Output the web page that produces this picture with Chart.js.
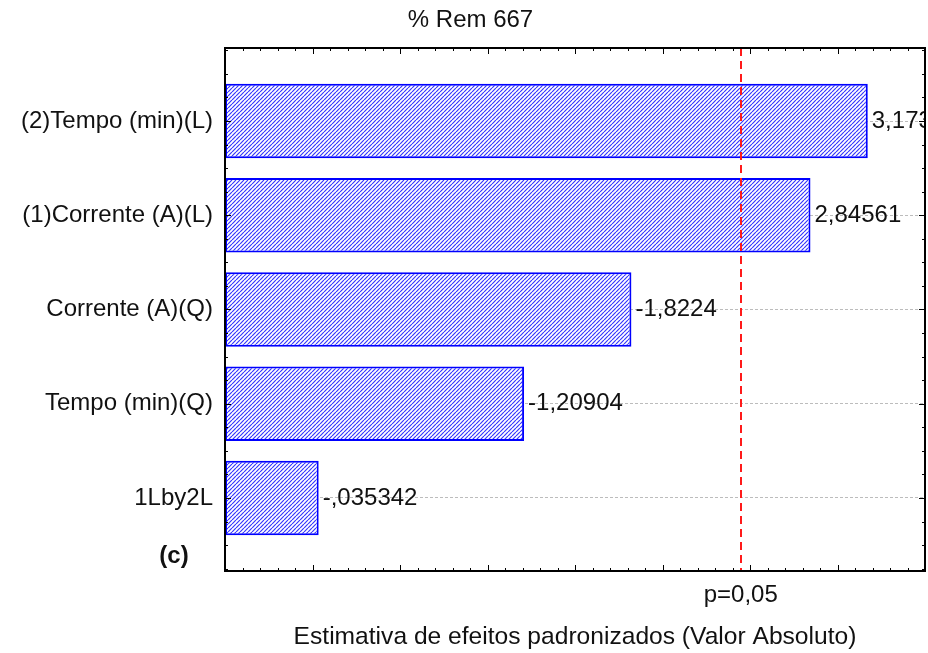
<!DOCTYPE html>
<html>
<head>
<meta charset="utf-8">
<script src="https://cdn.jsdelivr.net/npm/chart.js@4.4.1/dist/chart.umd.min.js"></script>
<style>
  body { margin: 0; background: #fff; }
</style>
</head>
<body>
<canvas id="grafico" width="928" height="653"></canvas>
<script>
// efeitos e estimativas padronizadas (t)
const efeitos = ['(2)Tempo (min)(L)', '(1)Corrente (A)(L)', 'Corrente (A)(Q)', 'Tempo (min)(Q)', '1Lby2L']
const estimativas = [3.173, 2.84561, -1.8224, -1.20904, -0.035342]
const pCritico = 2.4469
const pRotulo = 'p=0,05'
const xMin = -0.5
const xMax = 3.5

Chart.defaults.font.family = "'Liberation Sans', Arial, sans-serif"
Chart.defaults.font.size = 24
Chart.defaults.color = '#111'

// formato do Statistica: virgula decimal e sem zero a esquerda
function formatar(v) {
  return String(v).replace('.', ',').replace(/^(-?)0,/, '$1,')
}

// hachura azul das barras
function hachura() {
  const s = 4
  const c = document.createElement('canvas')
  c.width = s
  c.height = s
  const g = c.getContext('2d')
  g.fillStyle = '#ffffff'
  g.fillRect(0, 0, s, s)
  g.strokeStyle = '#3535ff'
  g.lineWidth = 1.2
  g.beginPath()
  for (let k = -s; k <= s; k += s) {
    g.moveTo(k, s)
    g.lineTo(k + s, 0)
  }
  g.stroke()
  return g.createPattern(c, 'repeat')
}

const moldura = {
  id: 'moldura',
  afterDatasetsDraw(chart) {
    const { ctx, chartArea: a } = chart
    const meta = chart.getDatasetMeta(0)
    ctx.save()
    ctx.beginPath()
    ctx.rect(a.left, a.top, a.width, a.height)
    ctx.clip()
    ctx.fillStyle = '#111'
    ctx.textBaseline = 'middle'
    ctx.textAlign = 'left'
    ctx.font = "24px 'Liberation Sans', Arial, sans-serif"
    meta.data.forEach((bar, i) => {
      ctx.fillText(formatar(estimativas[i]), bar.x + 4, bar.y)
    })
    ctx.restore()
  },
  afterDraw(chart) {
    const { ctx, chartArea: a, scales: { x, y } } = chart
    ctx.save()
    ctx.strokeStyle = '#000'
    ctx.lineWidth = 1
    const linha = (x1, y1, x2, y2) => {
      ctx.beginPath()
      ctx.moveTo(x1, y1)
      ctx.lineTo(x2, y2)
      ctx.stroke()
    }
    // marcas do eixo x: 0,5 maiores e 0,1 menores
    for (let n = 0; n <= Math.round((xMax - xMin) / 0.1); n++) {
      const v = xMin + n * 0.1
      const px = Math.round(x.getPixelForValue(v)) + 0.5
      const len = n % 5 === 0 ? 6 : 3
      linha(px, a.bottom, px, a.bottom - len)
      linha(px, a.top, px, a.top + len)
    }
    // marcas do eixo y: uma por efeito e quartos entre eles
    for (let n = -3; n <= (efeitos.length - 1) * 4 + 3; n++) {
      const py = Math.round(y.getPixelForValue(n / 4)) + 0.5
      const len = n % 4 === 0 ? 6 : 3
      linha(a.left, py, a.left + len, py)
      linha(a.right, py, a.right - len, py)
    }
    ctx.lineWidth = 2
    ctx.strokeRect(a.left, a.top, a.width, a.height)
    ctx.fillStyle = '#111'
    ctx.font = "bold 24px 'Liberation Sans', Arial, sans-serif"
    ctx.textAlign = 'center'
    ctx.textBaseline = 'middle'
    ctx.fillText('(c)', 174, 556)
    ctx.restore()
  }
}

new Chart(document.getElementById('grafico'), {
  type: 'bar',
  data: {
    datasets: [{
      data: estimativas.map((v, i) => ({ x: Math.abs(v), y: i })),
      base: xMin,
      backgroundColor: hachura(),
      borderColor: '#0000ff',
      borderWidth: 2,
      borderSkipped: false,
      categoryPercentage: 1,
      barPercentage: 0.79
    }]
  },
  options: {
    indexAxis: 'y',
    responsive: false,
    animation: false,
    devicePixelRatio: 1,
    layout: { padding: { left: 16, right: 3, top: 0, bottom: 0 } },
    plugins: {
      legend: { display: false },
      tooltip: { enabled: false },
      title: {
        display: true,
        text: '% Rem 667',
        font: { size: 24, weight: 'normal' },
        padding: { top: 6, bottom: 13.2 }
      }
    },
    scales: {
      x: {
        type: 'linear',
        min: xMin,
        max: xMax,
        afterBuildTicks: (s) => { s.ticks = [{ value: pCritico }] },
        afterFit: (s) => { s.height = 82 },
        ticks: { callback: () => pRotulo, padding: 10, autoSkip: false, maxRotation: 0 },
        grid: { color: '#ff1a1a', lineWidth: 2, drawTicks: false, z: 1 },
        border: { display: false, dash: [8, 5] },
        title: {
          display: true,
          text: 'Estimativa de efeitos padronizados (Valor Absoluto)',
          font: { size: 24.6 },
          padding: { top: 0, bottom: 1 }
        }
      },
      y: {
        type: 'linear',
        reverse: true,
        offset: false,
        min: -0.775,
        max: efeitos.length - 1 + 0.775,
        afterBuildTicks: (s) => { s.ticks = efeitos.map((_, i) => ({ value: i })) },
        afterFit: (s) => { s.width = 209 },
        ticks: { callback: (v) => efeitos[v], padding: 12, autoSkip: false },
        grid: { color: '#bcbcbc', lineWidth: 1, drawTicks: false, offset: false },
        border: { display: false, dash: [3, 2] }
      }
    }
  },
  plugins: [moldura]
})
</script>
</body>
</html>
